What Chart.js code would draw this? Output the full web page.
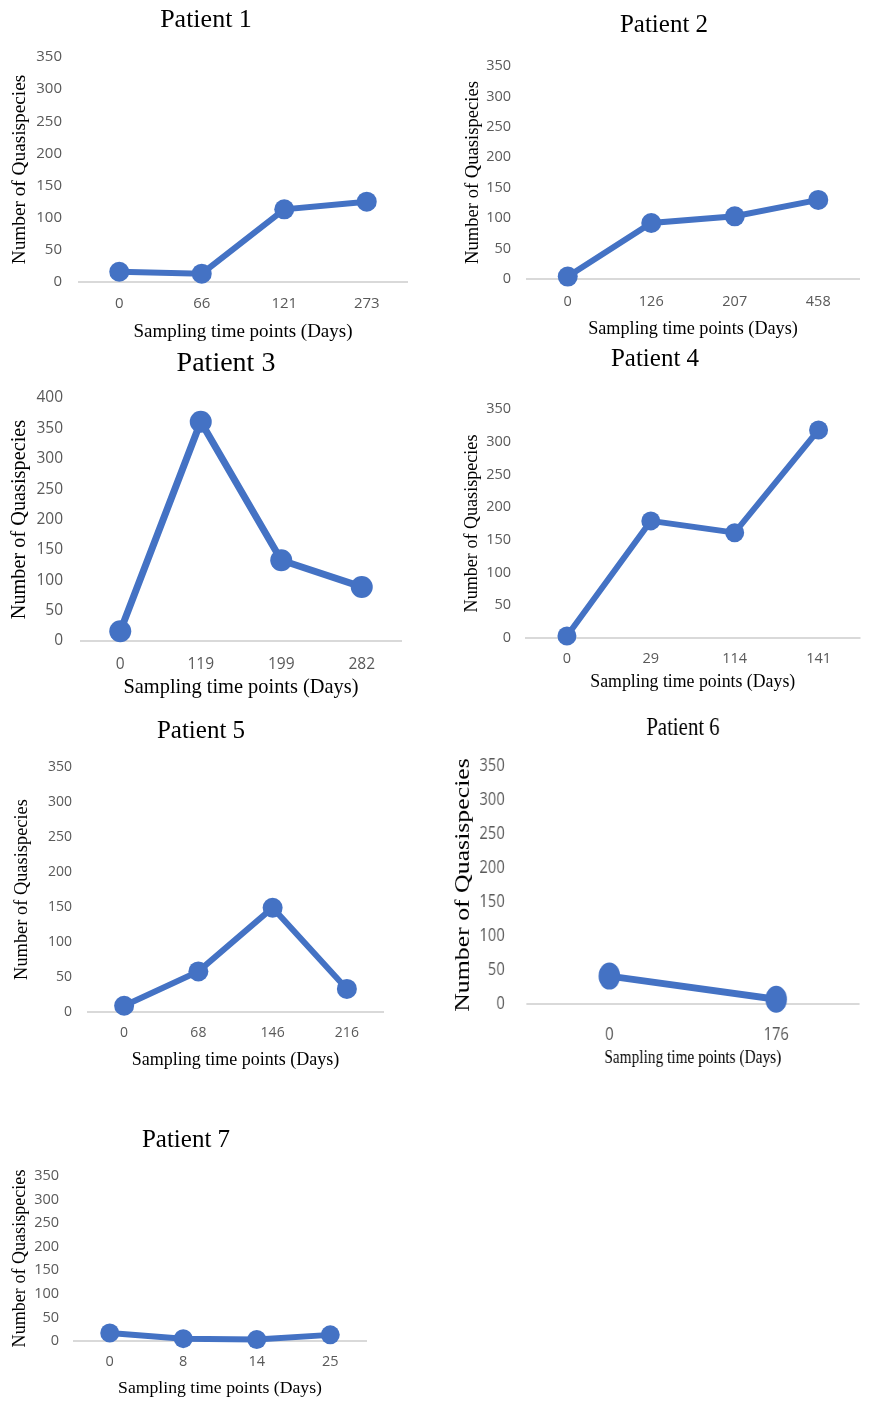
<!DOCTYPE html>
<html>
<head>
<meta charset="utf-8">
<title>Number of Quasispecies per patient</title>
<script src="https://cdn.jsdelivr.net/npm/chart.js@4.4.1/dist/chart.umd.min.js"></script>
<style>
  html, body { margin: 0; padding: 0; background: #ffffff; }
  #sheet { position: relative; width: 870px; height: 1401px; overflow: hidden; background: #ffffff; }
  #sheet canvas { position: absolute; }
</style>
</head>
<body>
<div id="sheet"></div>
<script>
// ---- values: sampling days (categories) and quasispecies counts per patient ----
const patient1Days = ['0', '66', '121', '273'];
const patient1Counts = [16, 13, 113, 125];

const patient2Days = ['0', '126', '207', '458'];
const patient2Counts = [4, 92, 103, 130];

const patient3Days = ['0', '119', '199', '282'];
const patient3Counts = [16, 361, 133, 89];

const patient4Days = ['0', '29', '114', '141'];
const patient4Counts = [3, 179, 161, 318];

const patient5Days = ['0', '68', '146', '216'];
const patient5Counts = [9, 58, 149, 33];

const patient6Days = ['0', '176'];
const patient6Counts = [41, 7];

const patient7Days = ['0', '8', '14', '25'];
const patient7Counts = [17, 5, 3, 13];

// y-axis ranges (tick labels run 0..max in steps of 50)
const yMaxStandard = 350;
const yMaxPatient3 = 400;
const yStep = 50;

const headings = ['Patient 1', 'Patient 2', 'Patient 3', 'Patient 4', 'Patient 5', 'Patient 6', 'Patient 7'];
const xAxisTitle = 'Sampling time points (Days)';
const yAxisTitle = 'Number of Quasispecies';

// ---- drawing ----
const LINE_BLUE = '#4472C4';
const SERIF = '"Liberation Serif", "Times New Roman", serif';
const SANS = '"Open Sans", "Liberation Sans", sans-serif';

Chart.defaults.font.family = SANS;

// Heading drawn above each small chart
const panelHeading = {
  id: 'panelHeading',
  afterDraw(chart, args, opts) {
    const ctx = chart.ctx;
    ctx.save();
    ctx.fillStyle = '#000000';
    ctx.font = opts.size + 'px ' + SERIF;
    ctx.textAlign = 'center';
    ctx.textBaseline = 'alphabetic';
    ctx.fillText(opts.text, opts.x, opts.y);
    ctx.restore();
  }
};

function buildPanel(p) {
  const sheet = document.getElementById('sheet');
  const canvas = document.createElement('canvas');
  canvas.width = p.box.w;
  canvas.height = p.box.h;
  canvas.style.left = p.box.x + 'px';
  canvas.style.top = p.box.y + 'px';
  canvas.style.width = p.box.w + 'px';
  canvas.style.height = p.box.h + 'px';
  if (p.squeeze) {
    canvas.style.transformOrigin = '0 0';
    canvas.style.transform = 'scaleX(' + p.squeeze + ')';
  }
  sheet.appendChild(canvas);

  const tickLH = p.tickSize * 1.2;
  const xtLH = p.xTitleSize * 1.2;
  const ytLH = p.yTitleSize * 1.2;

  return new Chart(canvas, {
    type: 'line',
    data: {
      labels: p.days,
      datasets: [{
        data: p.counts,
        borderColor: LINE_BLUE,
        backgroundColor: LINE_BLUE,
        borderWidth: p.lineWidth,
        pointRadius: p.radius,
        pointHoverRadius: p.radius,
        pointBorderWidth: 0,
        pointBackgroundColor: LINE_BLUE,
        tension: 0,
        clip: false
      }]
    },
    options: {
      responsive: false,
      animation: false,
      events: [],
      layout: {
        padding: { left: 0, top: p.plot.t, right: p.box.w - p.plot.r, bottom: 0 }
      },
      plugins: {
        legend: { display: false },
        tooltip: { enabled: false },
        title: { display: false },
        panelHeading: { text: p.heading, x: p.head.x, y: p.head.y, size: p.headSize }
      },
      scales: {
        x: {
          type: 'category',
          offset: true,
          grid: { display: false, drawTicks: false },
          border: { display: false },
          ticks: {
            color: '#595959',
            font: { size: p.tickSize, family: SANS },
            padding: p.xTickY - p.plot.b - tickLH / 2,
            maxRotation: 0,
            autoSkip: false
          },
          title: {
            display: true,
            text: xAxisTitle,
            color: '#000000',
            font: { size: p.xTitleSize, family: SERIF },
            padding: { top: 0, bottom: p.box.h - p.xTitleY - xtLH / 2 }
          },
          afterFit(scale) { scale.height = p.box.h - p.plot.b; }
        },
        y: {
          min: 0,
          max: p.yMax,
          grid: {
            drawTicks: false,
            lineWidth: 2,
            color: (c) => (c.tick && c.tick.value === 0 ? '#d9d9d9' : 'rgba(0,0,0,0)')
          },
          border: { display: false },
          ticks: {
            stepSize: yStep,
            color: '#595959',
            font: { size: p.tickSize, family: SANS },
            padding: p.plot.l - p.tickRight
          },
          title: {
            display: true,
            text: yAxisTitle,
            color: '#000000',
            font: { size: p.yTitleSize, family: SERIF },
            padding: { top: p.yTitleX - ytLH / 2, bottom: 0 }
          },
          afterFit(scale) { scale.width = p.plot.l; }
        }
      }
    },
    plugins: [panelHeading]
  });
}

// Panel geometry (canvas-local pixels)
const panels = [
  { heading: headings[0], days: patient1Days, counts: patient1Counts, yMax: yMaxStandard,
    box: { x: 0, y: 0, w: 435, h: 345 }, plot: { l: 78, r: 408, t: 57, b: 282 },
    tickRight: 62, yTitleX: 20, xTickY: 304, xTitleY: 332, head: { x: 206, y: 27 },
    headSize: 26, tickSize: 15, xTitleSize: 19, yTitleSize: 19.3, lineWidth: 6, radius: 10 },
  { heading: headings[1], days: patient2Days, counts: patient2Counts, yMax: yMaxStandard,
    box: { x: 440, y: 0, w: 430, h: 345 }, plot: { l: 86, r: 430, t: 66, b: 279 },
    tickRight: 71, yTitleX: 33, xTickY: 302, xTitleY: 329, head: { x: 224, y: 32 },
    headSize: 25, tickSize: 14.5, xTitleSize: 18.2, yTitleSize: 18.6, lineWidth: 6, radius: 10 },
  { heading: headings[2], days: patient3Days, counts: patient3Counts, yMax: yMaxPatient3,
    box: { x: 0, y: 345, w: 435, h: 360 }, plot: { l: 80, r: 402, t: 53, b: 296 },
    tickRight: 63, yTitleX: 20, xTickY: 320, xTitleY: 343, head: { x: 226, y: 26 },
    headSize: 28, tickSize: 15.5, xTitleSize: 20.4, yTitleSize: 20.3, lineWidth: 7, radius: 11 },
  { heading: headings[3], days: patient4Days, counts: patient4Counts, yMax: yMaxStandard,
    box: { x: 440, y: 345, w: 430, h: 360 }, plot: { l: 85, r: 425, t: 64, b: 293 },
    tickRight: 71, yTitleX: 32, xTickY: 314, xTitleY: 337, head: { x: 215, y: 21 },
    headSize: 25, tickSize: 14.5, xTitleSize: 17.8, yTitleSize: 18.1, lineWidth: 6, radius: 9.5 },
  { heading: headings[4], days: patient5Days, counts: patient5Counts, yMax: yMaxStandard,
    box: { x: 0, y: 705, w: 435, h: 385 }, plot: { l: 87, r: 384, t: 62, b: 307 },
    tickRight: 72, yTitleX: 22, xTickY: 328, xTitleY: 355, head: { x: 201, y: 33 },
    headSize: 25, tickSize: 14, xTitleSize: 18, yTitleSize: 18.4, lineWidth: 6, radius: 10 },
  { heading: headings[5], days: patient6Days, counts: patient6Counts, yMax: yMaxStandard, squeeze: 0.8,
    box: { x: 440, y: 705, w: 538, h: 385 }, plot: { l: 107.5, r: 532.5, t: 61, b: 299 },
    tickRight: 81, yTitleX: 28.75, xTickY: 330, xTitleY: 353, head: { x: 303.75, y: 30 },
    headSize: 26, tickSize: 18.5, xTitleSize: 19.2, yTitleSize: 25.8, lineWidth: 7, radius: 13.5 },
  { heading: headings[6], days: patient7Days, counts: patient7Counts, yMax: yMaxStandard,
    box: { x: 0, y: 1090, w: 435, h: 311 }, plot: { l: 73, r: 367, t: 86, b: 251 },
    tickRight: 59, yTitleX: 20, xTickY: 272, xTitleY: 298, head: { x: 186, y: 57 },
    headSize: 25, tickSize: 14.5, xTitleSize: 17.7, yTitleSize: 18.1, lineWidth: 6, radius: 9.5 }
];

panels.forEach(buildPanel);
</script>
</body>
</html>
